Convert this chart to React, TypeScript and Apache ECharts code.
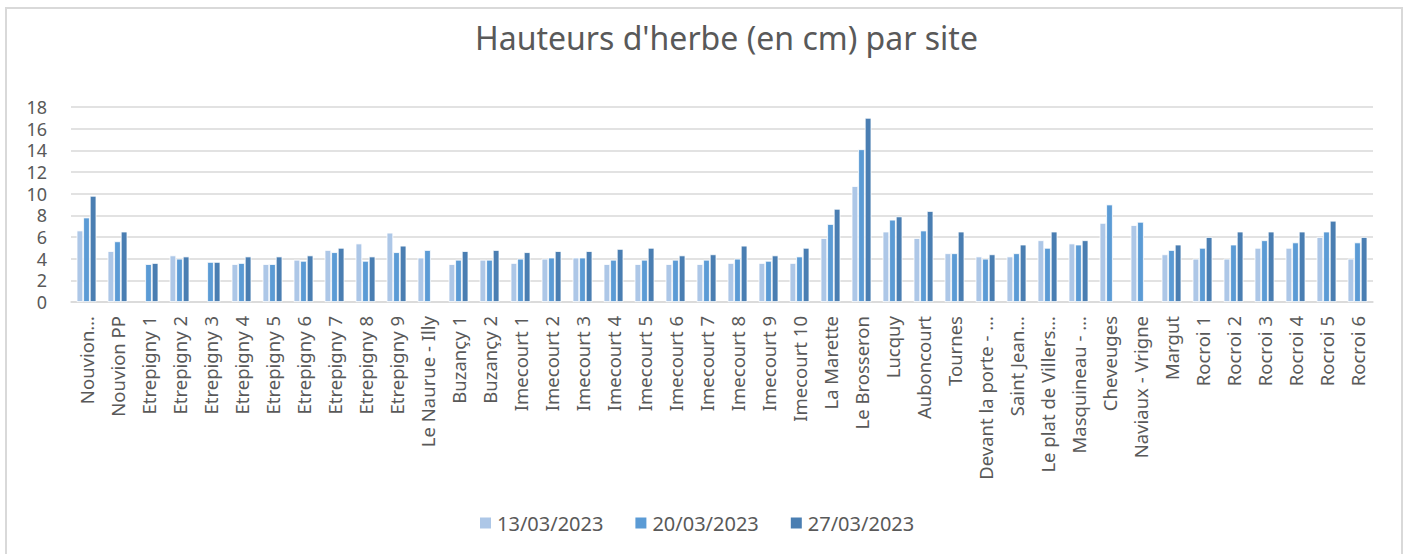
import React, { useEffect, useRef } from "react";
import * as echarts from "echarts";

const categories = [
  "Nouvion…", "Nouvion PP", "Etrepigny 1", "Etrepigny 2", "Etrepigny 3", "Etrepigny 4",
  "Etrepigny 5", "Etrepigny 6", "Etrepigny 7", "Etrepigny 8", "Etrepigny 9", "Le Naurue - Illy",
  "Buzançy 1", "Buzançy 2", "Imecourt 1", "Imecourt 2", "Imecourt 3", "Imecourt 4",
  "Imecourt 5", "Imecourt 6", "Imecourt 7", "Imecourt 8", "Imecourt 9", "Imecourt 10",
  "La Marette", "Le Brosseron", "Lucquy", "Auboncourt", "Tournes", "Devant la porte - …",
  "Saint Jean…", "Le plat de Villers…", "Masquineau - …", "Cheveuges", "Naviaux - Vrigne", "Margut",
  "Rocroi 1", "Rocroi 2", "Rocroi 3", "Rocroi 4", "Rocroi 5", "Rocroi 6",
];

const seriesNames = ["13/03/2023", "20/03/2023", "27/03/2023"];

const values1303 = [
  6.6, 4.7, null, 4.3, null, 3.5, 3.5, 3.9, 4.8, 5.4, 6.4, 4.1,
  3.5, 3.9, 3.6, 4.0, 4.1, 3.5, 3.5, 3.5, 3.5, 3.6, 3.6, 3.6,
  5.9, 10.7, 6.5, 5.9, 4.5, 4.2, 4.2, 5.7, 5.4, 7.3, 7.1, 4.4,
  4.0, 4.0, 5.0, 5.0, 6.0, 4.0,
];
const values2003 = [
  7.8, 5.6, 3.5, 4.0, 3.7, 3.6, 3.5, 3.8, 4.6, 3.8, 4.6, 4.8,
  3.9, 3.9, 4.0, 4.1, 4.1, 3.9, 3.9, 3.9, 3.9, 4.0, 3.8, 4.2,
  7.2, 14.1, 7.6, 6.6, 4.5, 4.0, 4.5, 5.0, 5.3, 9.0, 7.4, 4.8,
  5.0, 5.3, 5.7, 5.5, 6.5, 5.5,
];
const values2703 = [
  9.8, 6.5, 3.6, 4.2, 3.7, 4.2, 4.2, 4.3, 5.0, 4.2, 5.2, null,
  4.7, 4.8, 4.6, 4.7, 4.7, 4.9, 5.0, 4.3, 4.4, 5.2, 4.3, 5.0,
  8.6, 17.0, 7.9, 8.4, 6.5, 4.4, 5.3, 6.5, 5.7, null, null, 5.3,
  6.0, 6.5, 6.5, 6.5, 7.5, 6.0,
];

const yTicks = { min: 0, max: 18, interval: 2 };
const colors = ["#ADC7E7", "#5B9BD5", "#4A7EB2"];
const FONT = "'Noto Sans', 'Open Sans', sans-serif";

export default function App() {
  const ref = useRef<HTMLDivElement>(null);
  useEffect(() => {
    if (!ref.current) return;
    const chart = echarts.init(ref.current, null, { renderer: "svg" });
    const allValues = [values1303, values2003, values2703];
    chart.setOption({
      animation: false,
      backgroundColor: "#ffffff",
      textStyle: { fontFamily: FONT },
      title: {
        text: "Hauteurs d'herbe (en cm) par site",
        left: 470,
        top: 16,
        textStyle: { fontSize: 32, fontWeight: "normal", color: "#595959", fontFamily: FONT },
      },
      legend: {
        left: 473,
        top: 508,
        itemWidth: 13,
        itemHeight: 13,
        itemGap: 30,
        icon: "rect",
        textStyle: { fontSize: 20, color: "#595959", fontFamily: FONT },
        data: seriesNames,
      },
      graphic: [
        {
          type: "rect",
          shape: { x: 6, y: 8, width: 1396, height: 600 },
          style: { fill: "none", stroke: "#d9d9d9", lineWidth: 2 },
          silent: true,
        },
      ],
      grid: { left: 71, right: 34, top: 107, bottom: 252, containLabel: false },
      xAxis: {
        type: "category",
        data: categories,
        axisLine: { lineStyle: { color: "#d9d9d9", width: 1.5 } },
        axisTick: { show: false },
        axisLabel: {
          interval: 0,
          rotate: 90,
          fontSize: 18.5,
          color: "#595959",
          margin: 14,
          fontFamily: FONT,
        },
      },
      yAxis: {
        type: "value",
        min: yTicks.min,
        max: yTicks.max,
        interval: yTicks.interval,
        axisLine: { show: false },
        axisTick: { show: false },
        axisLabel: { fontSize: 18, lineHeight: 18, color: "#595959", margin: 24, fontFamily: FONT },
        splitLine: { lineStyle: { color: "#d9d9d9", width: 1.5 } },
      },
      series: seriesNames.map((name, i) => ({
        name,
        type: "bar",
        data: allValues[i],
        barWidth: 6.6,
        barGap: "0%",
        itemStyle: { color: colors[i], borderColor: "#ffffff", borderWidth: 0.8 },
      })),
    });
    return () => chart.dispose();
  }, []);
  return (
    <div
      ref={ref}
      style={{ position: "fixed", left: 0, top: 0, width: 1407, height: 554 }}
    />
  );
}
